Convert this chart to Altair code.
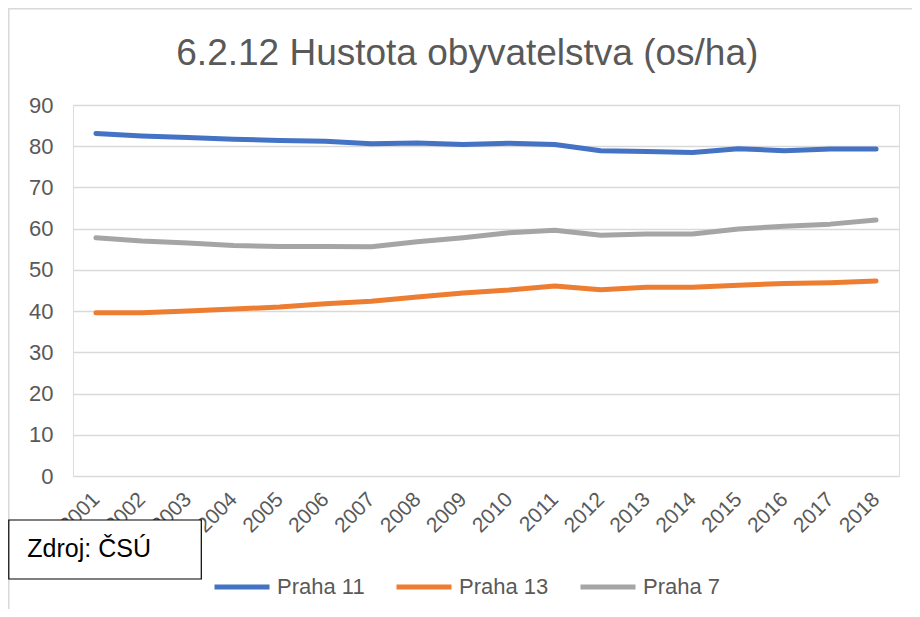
import altair as alt
import pandas as pd

years = [str(y) for y in range(2001, 2019)]
praha11 = [83.1, 82.5, 82.1, 81.7, 81.4, 81.2, 80.6, 80.8, 80.4, 80.7, 80.4, 78.9, 78.7, 78.5, 79.4, 78.9, 79.3, 79.3]
praha13 = [39.6, 39.6, 40.0, 40.5, 41.0, 41.8, 42.4, 43.4, 44.4, 45.1, 46.1, 45.2, 45.8, 45.8, 46.3, 46.7, 46.9, 47.3]
praha7 = [57.8, 57.0, 56.5, 55.9, 55.7, 55.7, 55.6, 56.8, 57.8, 59.0, 59.6, 58.4, 58.7, 58.7, 59.9, 60.6, 61.1, 62.1]
series_names = ["Praha 11", "Praha 13", "Praha 7"]
series_colors = ["#4472C4", "#ED7D31", "#A5A5A5"]
y_ticks = list(range(0, 100, 10))
title_text = "6.2.12 Hustota obyvatelstva (os/ha)"
source_text = "Zdroj: ČSÚ"

rows = []
for name, vals in zip(series_names, [praha11, praha13, praha7]):
    for yr, v in zip(years, vals):
        rows.append({"rok": yr, "hodnota": v, "serie": name})
df = pd.DataFrame(rows)

FONT = "Liberation Sans, Arial, sans-serif"
TXT = "#595959"

one = pd.DataFrame({"a": [0]})
border_left = alt.Chart(one).mark_rule(stroke="#D9D9D9", strokeWidth=1.5).encode(
    x=alt.value(-64.2), y=alt.value(-97), y2=alt.value(520)
)
border_top = alt.Chart(one).mark_rule(stroke="#D9D9D9", strokeWidth=1.5).encode(
    x=alt.value(-65), x2=alt.value(860), y=alt.value(-96.2)
)

lines = alt.Chart(df).mark_line(strokeWidth=5, strokeCap="round", strokeJoin="round").encode(
    x=alt.X("rok:N", sort=years, scale=alt.Scale(type="point", padding=0.5),
            axis=alt.Axis(title=None, labelAngle=-45, labelAlign="right", labelBaseline="middle",
                          labelPadding=20, labelFontSize=21, labelColor=TXT, labelFont=FONT,
                          domain=False, ticks=False, grid=False)),
    y=alt.Y("hodnota:Q", scale=alt.Scale(domain=[0, 90], nice=False),
            axis=alt.Axis(title=None, values=y_ticks, labelFontSize=22, labelColor=TXT, labelFont=FONT,
                          labelPadding=20, domain=False, ticks=False, grid=True,
                          gridColor="#D9D9D9", gridWidth=1.5)),
    color=alt.Color("serie:N", sort=series_names,
                    scale=alt.Scale(domain=series_names, range=series_colors),
                    legend=alt.Legend(orient="none", legendX=139, legendY=452, direction="horizontal",
                                      title=None, symbolType="stroke", symbolSize=3025,
                                      symbolStrokeWidth=5, labelFontSize=22, labelColor=TXT,
                                      labelFont=FONT, labelOffset=5, columnPadding=21, padding=0)),
    order=alt.Order("rok:N")
)

box = alt.Chart(one).mark_rect(
    fill="white", stroke="black", strokeWidth=1.2
).encode(
    x=alt.value(-64.2), x2=alt.value(128.3), y=alt.value(415), y2=alt.value(474)
)

box_text = alt.Chart(pd.DataFrame({"t": [source_text]})).mark_text(
    align="left", baseline="alphabetic", fontSize=25, font=FONT, color="black"
).encode(text="t:N", x=alt.value(-45.7), y=alt.value(452))

title = alt.Chart(pd.DataFrame({"t": [title_text]})).mark_text(
    align="center", baseline="alphabetic", fontSize=37, font=FONT, color=TXT
).encode(text="t:N", x=alt.value(394.3), y=alt.value(-40))

chart = alt.layer(border_left, border_top, lines, box, box_text, title).properties(
    width=826, height=371,
    autosize=alt.AutoSizeParams(type="none"),
    padding={"left": 65, "top": 97, "right": 13, "bottom": 133}
).configure_view(stroke=None).configure(background="white")

chart.save("out.html", embed_options={"renderer": "svg", "actions": False})
